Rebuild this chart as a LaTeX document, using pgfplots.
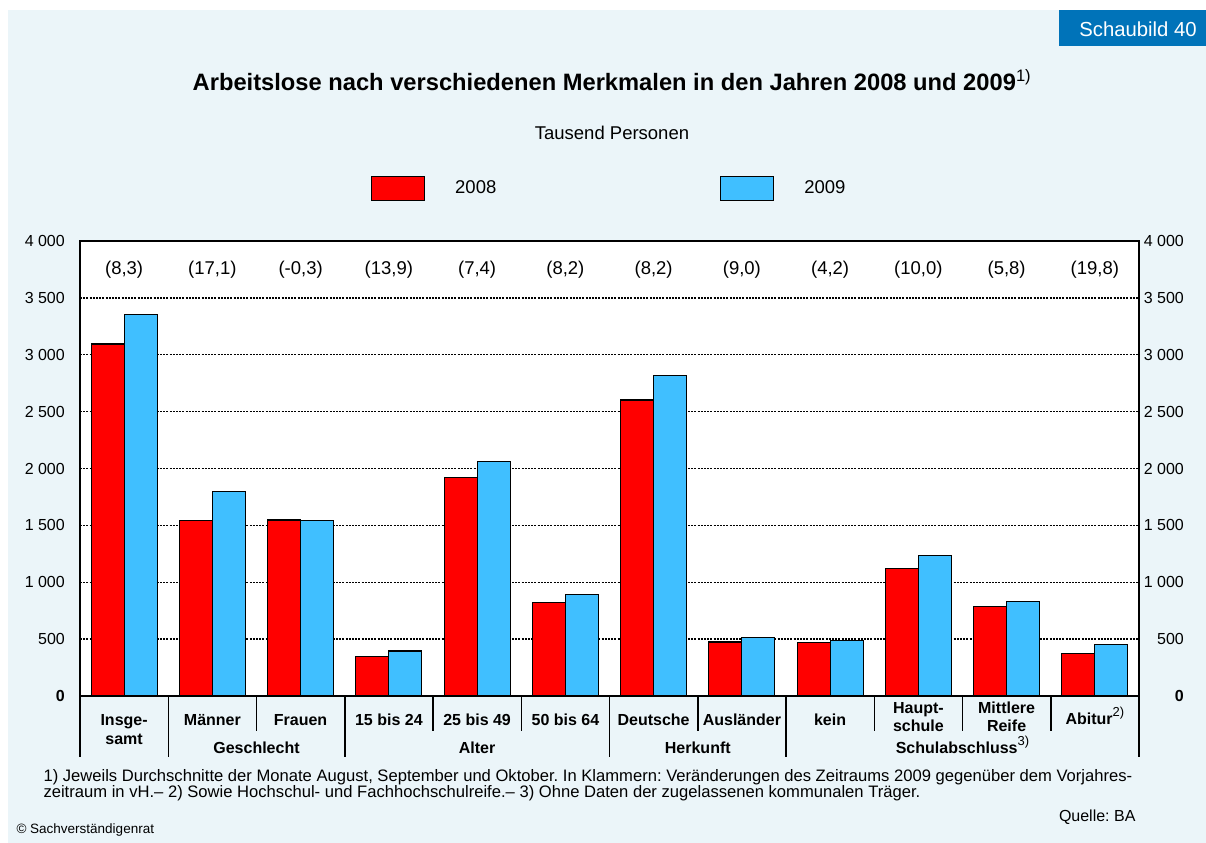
\documentclass[border=0pt]{standalone}
\usepackage{fontspec}
\setmainfont{Liberation Sans}
\usepackage{pgfplots}
\usepackage{pgfplotstable}
\pgfplotsset{compat=1.18}
\frenchspacing

\definecolor{panel}{RGB}{235,245,249}
\definecolor{rot}{RGB}{255,0,0}
\definecolor{hellblau}{RGB}{64,191,255}
\definecolor{svblau}{RGB}{0,115,185}

\newcommand{\fs}[1]{\fontsize{#1bp}{#1bp}\selectfont}
\newcommand{\fn}[1]{\raisebox{0.45em}{\mdseries\fs{13}#1}}

% Arbeitslose in Tausend, Durchschnitt Aug.-Okt.
\pgfplotstableread{
x  y08   y09
0  3094  3353
1  1541  1800
2  1548  1543
3  347   395
4  1923  2064
5  821   889
6  2603  2818
7  474   517
8  469   489
9  1121  1235
10 788   833
11 377   452
}\arbeitslose

\pgfplotsset{
  sv axis/.style={
    at={(80bp,-696bp)}, anchor=south west,
    scale only axis, width=1059bp, height=455bp,
    xmin=-0.5, xmax=11.5, ymin=0, ymax=4000,
    ytick={0,500,...,4000},
    yticklabels={\textbf{0},500,1 000,1 500,2 000,2 500,3 000,3 500,4 000},
    major tick length=0pt,
    clip=false,
  },
}

\begin{document}
\begin{tikzpicture}[x=1bp,y=-1bp]
\fill[white] (0,0) rectangle (1206,843);
\fill[panel] (8,10) rectangle (1206,843);
\fill[svblau] (1059,10) rectangle (1206,46);
\node[white,font=\fs{20.3}] at (1138,29) {Schaubild 40};

\node[font=\bfseries\fs{23.7}] at (612,80)
  {Arbeitslose nach verschiedenen Merkmalen in den Jahren 2008 und 2009\textsuperscript{\mdseries 1)}};
\node[font=\fs{18.5}] at (612,133) {Tausend Personen};

\begin{axis}[
  sv axis,
  ybar=0pt, bar width=33bp,
  xtick=\empty,
  axis background/.style={fill=white},
  axis line style={black, line width=1.5bp},
  ymajorgrids,
  grid style={black, line width=1.4bp, dash pattern=on 2bp off 1.2bp},
  yticklabel style={font=\fs{16}, anchor=east, inner sep=0pt, xshift=-15bp},
  legend columns=2,
  legend style={at={(0.2748,1)}, anchor=west, yshift=53bp,
    draw=none, fill=none, inner sep=0pt, font=\fs{18.5},
    /tikz/every odd column/.append style={column sep=28bp},
    /tikz/every even column/.append style={column sep=222bp}},
  legend image code/.code={\draw[#1, line width=1bp] (0bp,-12bp) rectangle (53bp,12bp);},
]
\addplot[fill=rot, draw=black, line width=1.2bp] table[x=x, y=y08] {\arbeitslose};
\addplot[fill=hellblau, draw=black, line width=1.2bp] table[x=x, y=y09] {\arbeitslose};
\legend{2008,2009}

% Veraenderung gegenueber Vorjahr in vH
\node[font=\fs{18.5}] at (axis cs:0,3745) {(8,3)};
\node[font=\fs{18.5}] at (axis cs:1,3745) {(17,1)};
\node[font=\fs{18.5}] at (axis cs:2,3745) {(-0,3)};
\node[font=\fs{18.5}] at (axis cs:3,3745) {(13,9)};
\node[font=\fs{18.5}] at (axis cs:4,3745) {(7,4)};
\node[font=\fs{18.5}] at (axis cs:5,3745) {(8,2)};
\node[font=\fs{18.5}] at (axis cs:6,3745) {(8,2)};
\node[font=\fs{18.5}] at (axis cs:7,3745) {(9,0)};
\node[font=\fs{18.5}] at (axis cs:8,3745) {(4,2)};
\node[font=\fs{18.5}] at (axis cs:9,3745) {(10,0)};
\node[font=\fs{18.5}] at (axis cs:10,3745) {(5,8)};
\node[font=\fs{18.5}] at (axis cs:11,3745) {(19,8)};
\end{axis}

\begin{axis}[
  sv axis,
  axis x line=none, axis y line*=right,
  y axis line style={draw=none},
  yticklabel style={font=\fs{16}, anchor=east, inner sep=0pt, xshift=45bp},
]
\end{axis}

% Kategorien unter der Achse
\foreach \k in {0,1,3,6,8,12}
  \draw[line width=1.5bp] ({80+88.25*\k},696) -- ({80+88.25*\k},757);
\foreach \k in {2,4,5,7,9,10,11}
  \draw[line width=1.5bp] ({80+88.25*\k},696) -- ({80+88.25*\k},731);

\begin{scope}[every node/.style={font=\bfseries\fs{16}, anchor=base}]
\node at (124.1,725) {Insge-};
\node at (124.1,744) {samt};
\node at (212.4,725) {Männer};
\node at (300.6,725) {Frauen};
\node at (388.9,725) {15 bis 24};
\node at (477.1,725) {25 bis 49};
\node at (565.4,725) {50 bis 64};
\node at (653.6,725) {Deutsche};
\node at (741.9,725) {Ausländer};
\node at (830.1,725) {kein};
\node at (918.4,713) {Haupt-};
\node at (918.4,731) {schule};
\node at (1006.6,713) {Mittlere};
\node at (1006.6,731) {Reife};
\node at (1094.9,724) {Abitur\fn{2)}};
\node at (256.5,753) {Geschlecht};
\node at (477.1,753) {Alter};
\node at (697.8,753) {Herkunft};
\node at (962.5,753) {Schulabschluss\fn{3)}};
\end{scope}

\node[font=\fs{16.6}, anchor=base west] at (40,781)
  {1) Jeweils Durchschnitte der Monate August, September und Oktober. In Klammern: Veränderungen des Zeitraums 2009 gegenüber dem Vorjahres-};
\node[font=\fs{16.6}, anchor=base west] at (40,797)
  {zeitraum in vH.– 2) Sowie Hochschul- und Fachhochschulreife.– 3) Ohne Daten der zugelassenen kommunalen Träger.};
\node[font=\fs{16}, anchor=base east] at (1139,821) {Quelle: BA};
\node[font=\fs{13.5}, anchor=base west] at (13,833) {© Sachverständigenrat};
\end{tikzpicture}
\end{document}
